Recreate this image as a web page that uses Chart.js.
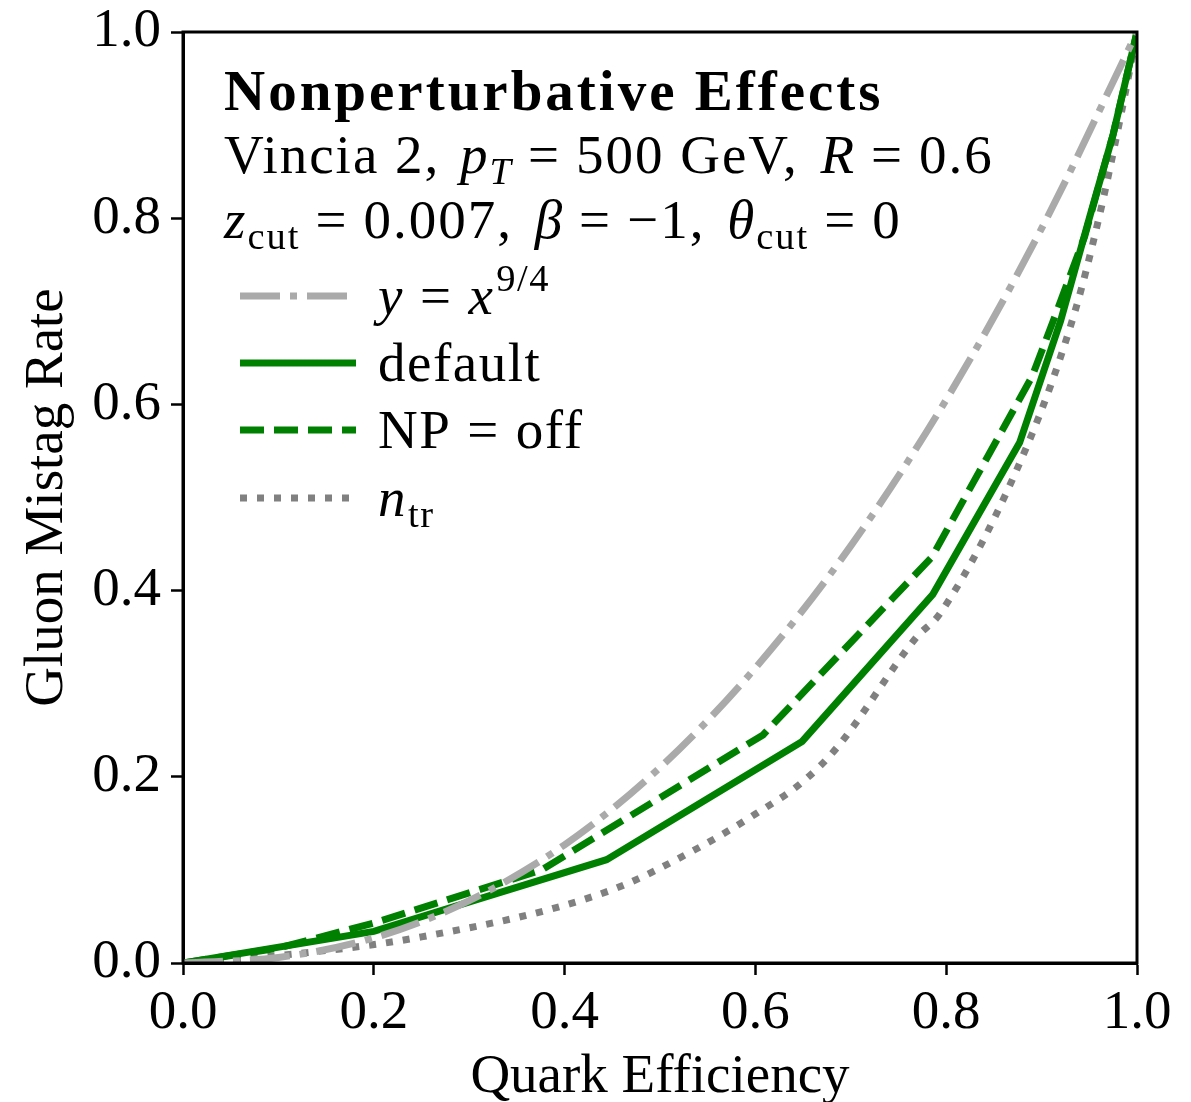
<!DOCTYPE html>
<html lang="en">
<head>
    <meta charset="UTF-8">
    <title>Gluon Mistag Rate vs Quark Efficiency</title>
    <script src="https://cdn.jsdelivr.net/npm/chart.js"></script>
    <style>
        html, body {
            margin: 0;
            padding: 0;
            background: #fff;
        }
        .chart-container {
            width: 1191px;
            height: 1102px;
        }
    </style>
</head>
<body>
<div class="chart-container">
    <canvas id="mistagChart" width="1191" height="1102"></canvas>
</div>

<script>
    // values
    const powX = [0, 0.1, 0.2, 0.3, 0.4, 0.5, 0.6, 0.7, 0.8, 0.9, 1.0];
    const powY = [0, 0.006, 0.027, 0.067, 0.127, 0.21, 0.317, 0.448, 0.605, 0.789, 1.0];

    const defaultX = [0, 0.2, 0.444, 0.649, 0.786, 0.877, 0.92, 0.95, 0.975, 1.0];
    const defaultY = [0, 0.034, 0.111, 0.238, 0.396, 0.559, 0.69, 0.80, 0.89, 1.0];

    const npOffX = [0, 0.1, 0.2, 0.376, 0.608, 0.785, 0.89, 0.916, 0.945, 0.975, 1.0];
    const npOffY = [0, 0.016, 0.043, 0.10, 0.245, 0.436, 0.63, 0.70, 0.78, 0.89, 1.0];

    const ntrX = [0, 0.09, 0.25, 0.448, 0.539, 0.6, 0.65, 0.686, 0.769, 0.794, 0.885, 0.935, 0.96, 0.982, 1.0];
    const ntrY = [0, 0.007, 0.028, 0.078, 0.123, 0.16, 0.195, 0.232, 0.35, 0.376, 0.556, 0.70, 0.80, 0.905, 1.0];

    const tickValues = [0, 0.2, 0.4, 0.6, 0.8, 1.0];
    const tickLabels = ['0.0', '0.2', '0.4', '0.6', '0.8', '1.0'];

    const FONT = '"Liberation Serif", "DejaVu Serif", serif';
    const FS = 55;

    function toPoints(xs, ys) {
        return xs.map((x, i) => ({ x: x, y: ys[i] }));
    }

    // legend label pieces (i = italic, sub/sup, g = extra gap after)
    const legendParts = [
        [{ t: 'y', i: true, g: 16 }, { t: '=', g: 16 }, { t: 'x', i: true, g: 2 }, { t: '9/4', sup: true }],
        [{ t: 'default' }],
        [{ t: 'NP', g: 16 }, { t: '=', g: 16 }, { t: 'off' }],
        [{ t: 'n', i: true, g: 1 }, { t: 'tr', sub: true }]
    ];

    const headerLines = [
        [{ t: 'Nonperturbative Effects', b: true }],
        [{ t: 'Vincia 2, ', g: 4 }, { t: 'p', i: true }, { t: 'T', i: true, sub: true, g: 15 }, { t: '=', g: 15 },
         { t: '500 GeV, ', g: 6 }, { t: 'R', i: true, g: 15 }, { t: '=', g: 15 }, { t: '0.6' }],
        [{ t: 'z', i: true }, { t: 'cut', sub: true, g: 15 }, { t: '=', g: 15 }, { t: '0.007, ', g: 6 },
         { t: 'β', i: true, g: 15 }, { t: '=', g: 15 }, { t: '−1, ', g: 6 },
         { t: 'θ', i: true }, { t: 'cut', sub: true, g: 15 }, { t: '=', g: 15 }, { t: '0' }]
    ];

    function drawRich(ctx, x, y, parts, size, spacing) {
        ctx.letterSpacing = spacing + 'px';
        parts.forEach(p => {
            let fs = size, dy = 0;
            if (p.sub) { fs = size * 0.7; dy = size * 0.2; }
            if (p.sup) { fs = size * 0.7; dy = -size * 0.42; }
            ctx.font = (p.i ? 'italic ' : '') + (p.b ? 'bold ' : '') + fs + 'px ' + FONT;
            ctx.fillText(p.t, x, y + dy);
            x += ctx.measureText(p.t).width + (p.g || 0);
        });
        ctx.letterSpacing = '0px';
    }

    // frame on all four sides + text block + legend
    const decorPlugin = {
        id: 'decor',
        afterDraw(chart) {
            const ctx = chart.ctx;
            const a = chart.chartArea;
            ctx.save();
            ctx.strokeStyle = '#000';
            ctx.lineWidth = 3;
            ctx.strokeRect(a.left, a.top, a.right - a.left, a.bottom - a.top);

            ctx.fillStyle = '#000';
            ctx.textBaseline = 'alphabetic';
            ctx.textAlign = 'left';
            const headerBase = [110, 173, 238];
            headerLines.forEach((parts, i) => {
                if (i === 0) drawRich(ctx, 224, headerBase[i], parts, 57, 3);
                else drawRich(ctx, 224, headerBase[i], parts, FS, 2);
            });

            const rowY = [296, 363, 430, 498];
            chart.data.datasets.forEach((ds, i) => {
                ctx.beginPath();
                ctx.strokeStyle = ds.borderColor;
                ctx.lineWidth = ds.borderWidth;
                ctx.lineCap = 'butt';
                ctx.setLineDash(ds.borderDash || []);
                ctx.moveTo(240, rowY[i]);
                ctx.lineTo(356, rowY[i]);
                ctx.stroke();
                ctx.setLineDash([]);
                ctx.fillStyle = '#000';
                drawRich(ctx, 378, rowY[i] + 18, legendParts[i], FS, 1.5);
            });
            ctx.restore();
        }
    };

    const ctx = document.getElementById('mistagChart').getContext('2d');
    const mistagChart = new Chart(ctx, {
        type: 'scatter',
        data: {
            datasets: [{
                label: 'y = x^9/4',
                data: toPoints(powX, powY),
                borderColor: '#aaaaaa',
                borderWidth: 7,
                borderDash: [40, 10, 7, 10],
                cubicInterpolationMode: 'monotone'
            }, {
                label: 'default',
                data: toPoints(defaultX, defaultY),
                borderColor: '#008000',
                borderWidth: 7
            }, {
                label: 'NP = off',
                data: toPoints(npOffX, npOffY),
                borderColor: '#008000',
                borderWidth: 7,
                borderDash: [24, 10]
            }, {
                label: 'n_tr',
                data: toPoints(ntrX, ntrY),
                borderColor: '#808080',
                borderWidth: 7,
                borderDash: [7, 10],
                cubicInterpolationMode: 'monotone'
            }]
        },
        options: {
            responsive: false,
            animation: false,
            devicePixelRatio: 1,
            showLine: true,
            elements: {
                point: { radius: 0, hoverRadius: 0 },
                line: { fill: false, borderCapStyle: 'butt' }
            },
            layout: { padding: { left: 0, top: 32, right: 54, bottom: 0 } },
            plugins: {
                legend: { display: false },
                tooltip: { enabled: false }
            },
            scales: {
                x: {
                    type: 'linear',
                    min: 0,
                    max: 1,
                    afterBuildTicks: s => { s.ticks = tickValues.map(v => ({ value: v })); },
                    afterFit: s => { s.height = 139; s.paddingLeft = 0; s.paddingRight = 0; },
                    ticks: {
                        callback: (v, i) => tickLabels[i],
                        color: '#000',
                        font: { family: FONT, size: FS },
                        padding: 6,
                        maxRotation: 0
                    },
                    grid: { drawOnChartArea: false, drawTicks: true, tickLength: 12, tickWidth: 2.5, tickColor: '#000' },
                    border: { display: true, color: '#000', width: 3 },
                    title: {
                        display: true,
                        text: 'Quark Efficiency',
                        color: '#000',
                        font: { family: FONT, size: FS, lineHeight: 0.9 },
                        padding: { top: 0, bottom: 0 }
                    }
                },
                y: {
                    type: 'linear',
                    min: 0,
                    max: 1,
                    afterBuildTicks: s => { s.ticks = tickValues.map(v => ({ value: v })); },
                    afterFit: s => { s.width = 183; s.paddingTop = 0; s.paddingBottom = 0; },
                    ticks: {
                        callback: (v, i) => tickLabels[i],
                        color: '#000',
                        font: { family: FONT, size: FS },
                        padding: 10
                    },
                    grid: { drawOnChartArea: false, drawTicks: true, tickLength: 12, tickWidth: 2.5, tickColor: '#000' },
                    border: { display: true, color: '#000', width: 3 },
                    title: {
                        display: true,
                        text: 'Gluon Mistag Rate',
                        color: '#000',
                        font: { family: FONT, size: FS },
                        padding: { top: 15, bottom: 0 }
                    }
                }
            }
        },
        plugins: [decorPlugin]
    });
</script>
</body>
</html>
